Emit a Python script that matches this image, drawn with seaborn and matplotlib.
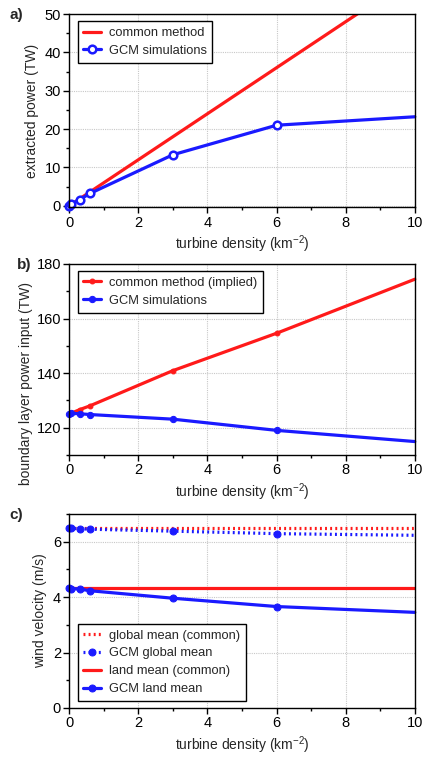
import matplotlib
matplotlib.use("Agg")
import matplotlib.pyplot as plt
from matplotlib.ticker import MultipleLocator
import seaborn as sns
import pandas as pd

# ---- data ----
density = [0, 0.06, 0.3, 0.6, 3, 6, 10]

# panel a: extracted power (TW)
power_common = [0, 0.36, 1.8, 3.6, 18, 36, 60]
power_gcm = [0, 0.4, 1.6, 3.2, 13.3, 21.0, 23.2]

# panel b: boundary layer power input (TW)
input_common = [125, 125.3, 126.6, 128.0, 140.9, 154.6, 174.4]
input_gcm = [125, 125.2, 125.1, 124.8, 123.1, 119.0, 114.9]

# panel c: wind velocity (m/s)
global_common = [6.48, 6.48, 6.48, 6.48, 6.48, 6.48, 6.48]
global_gcm = [6.48, 6.48, 6.47, 6.45, 6.38, 6.29, 6.23]
land_common = [4.33, 4.33, 4.33, 4.33, 4.33, 4.33, 4.33]
land_gcm = [4.32, 4.31, 4.29, 4.23, 3.96, 3.66, 3.45]

xlabel = "turbine density (km$^{-2}$)"

sns.set_theme(style="ticks")
plt.rcParams["font.family"] = ["Liberation Sans", "DejaVu Sans"]
plt.rcParams["mathtext.fontset"] = "custom"
plt.rcParams["mathtext.rm"] = "Liberation Sans"

RED = "#ff1a1a"
BLUE = "#1a1aff"

fig = plt.figure(figsize=(4.25, 7.62), dpi=100)
axa = fig.add_axes([0.163, 0.728, 0.813, 0.2536])
axb = fig.add_axes([0.163, 0.403, 0.813, 0.2506])
axc = fig.add_axes([0.163, 0.0709, 0.813, 0.2546])

df = pd.DataFrame({
    "x": density,
    "pc": power_common, "pg": power_gcm,
    "ic": input_common, "ig": input_gcm,
    "gc": global_common, "gg": global_gcm,
    "lc": land_common, "lg": land_gcm,
})

mk = list(range(6))

# panel a
sns.lineplot(data=df, x="x", y="pc", ax=axa, color=RED, lw=2.3, label="common method")
sns.lineplot(data=df, x="x", y="pg", ax=axa, color=BLUE, lw=2.3, marker="o",
             markevery=mk, ms=5.5, mfc="white", mec=BLUE, mew=1.8, clip_on=False,
             label="GCM simulations")
axa.set_ylim(-0.4, 50)
axa.set_ylabel("extracted power (TW)")
axa.yaxis.set_major_locator(MultipleLocator(10))
axa.yaxis.set_minor_locator(MultipleLocator(5))

# panel b
sns.lineplot(data=df, x="x", y="ic", ax=axb, color=RED, lw=2.3, marker="o",
             markevery=[2, 3, 4, 5], ms=3.5, mec=RED, clip_on=False,
             label="common method (implied)")
sns.lineplot(data=df, x="x", y="ig", ax=axb, color=BLUE, lw=2.3, marker="o",
             markevery=mk, ms=4.5, mec=BLUE, clip_on=False,
             label="GCM simulations")
axb.set_ylim(110, 180)
axb.set_ylabel("boundary layer power input (TW)")
axb.yaxis.set_major_locator(MultipleLocator(20))
axb.yaxis.set_minor_locator(MultipleLocator(10))

# panel c
sns.lineplot(data=df, x="x", y="gc", ax=axc, color=RED, lw=2.3, ls=(0, (0.6, 1.0)),
             label="global mean (common)")
sns.lineplot(data=df, x="x", y="gg", ax=axc, color=BLUE, lw=2.3, ls=(0, (0.6, 1.0)),
             marker="o", markevery=mk, ms=5, mec=BLUE, clip_on=False,
             label="GCM global mean")
sns.lineplot(data=df, x="x", y="lc", ax=axc, color=RED, lw=2.3,
             label="land mean (common)")
sns.lineplot(data=df, x="x", y="lg", ax=axc, color=BLUE, lw=2.3,
             marker="o", markevery=mk, ms=5, mec=BLUE, clip_on=False,
             label="GCM land mean")
axc.set_ylim(0, 7)
axc.set_ylabel("wind velocity (m/s)")
axc.yaxis.set_major_locator(MultipleLocator(2))
axc.yaxis.set_minor_locator(MultipleLocator(1))

for ax, lab, lx in zip([axa, axb, axc], ["a)", "b)", "c)"], [-0.174, -0.152, -0.174]):
    ax.set_xlim(0, 10)
    ax.xaxis.set_major_locator(MultipleLocator(2))
    ax.xaxis.set_minor_locator(MultipleLocator(1))
    ax.set_xlabel(xlabel, fontsize=10, labelpad=3)
    ax.yaxis.label.set_size(10)
    ax.grid(True, which="major", color="#c8c8c8", ls=(0, (1, 1)), lw=0.8)
    ax.set_axisbelow(True)
    for s in ax.spines.values():
        s.set_visible(True)
        s.set_color("black")
        s.set_linewidth(1.0)
    ax.tick_params(which="major", direction="out", length=4, width=1, labelsize=10.5,
                   colors="black", pad=2)
    ax.tick_params(which="minor", direction="out", length=2.5, width=1, colors="black")
    ax.text(lx, 0.995, lab, transform=ax.transAxes, fontsize=11, fontweight="bold",
            ha="left", va="center")

legkw = dict(frameon=True, fancybox=False, edgecolor="black", framealpha=1,
             fontsize=9.3, handlelength=1.35, borderpad=0.45, labelspacing=0.45,
             handletextpad=0.6, borderaxespad=0)
la = axa.legend(loc="upper left", bbox_to_anchor=(0.024, 0.963), **legkw)
lb = axb.legend(loc="upper left", bbox_to_anchor=(0.024, 0.963), **legkw)
lc = axc.legend(loc="lower left", bbox_to_anchor=(0.024, 0.036), **legkw)
for lg in (la, lb, lc):
    lg.get_frame().set_linewidth(1.0)

axb.yaxis.set_label_coords(-0.105, 0.375)

fig.savefig("out.png", dpi=100)
